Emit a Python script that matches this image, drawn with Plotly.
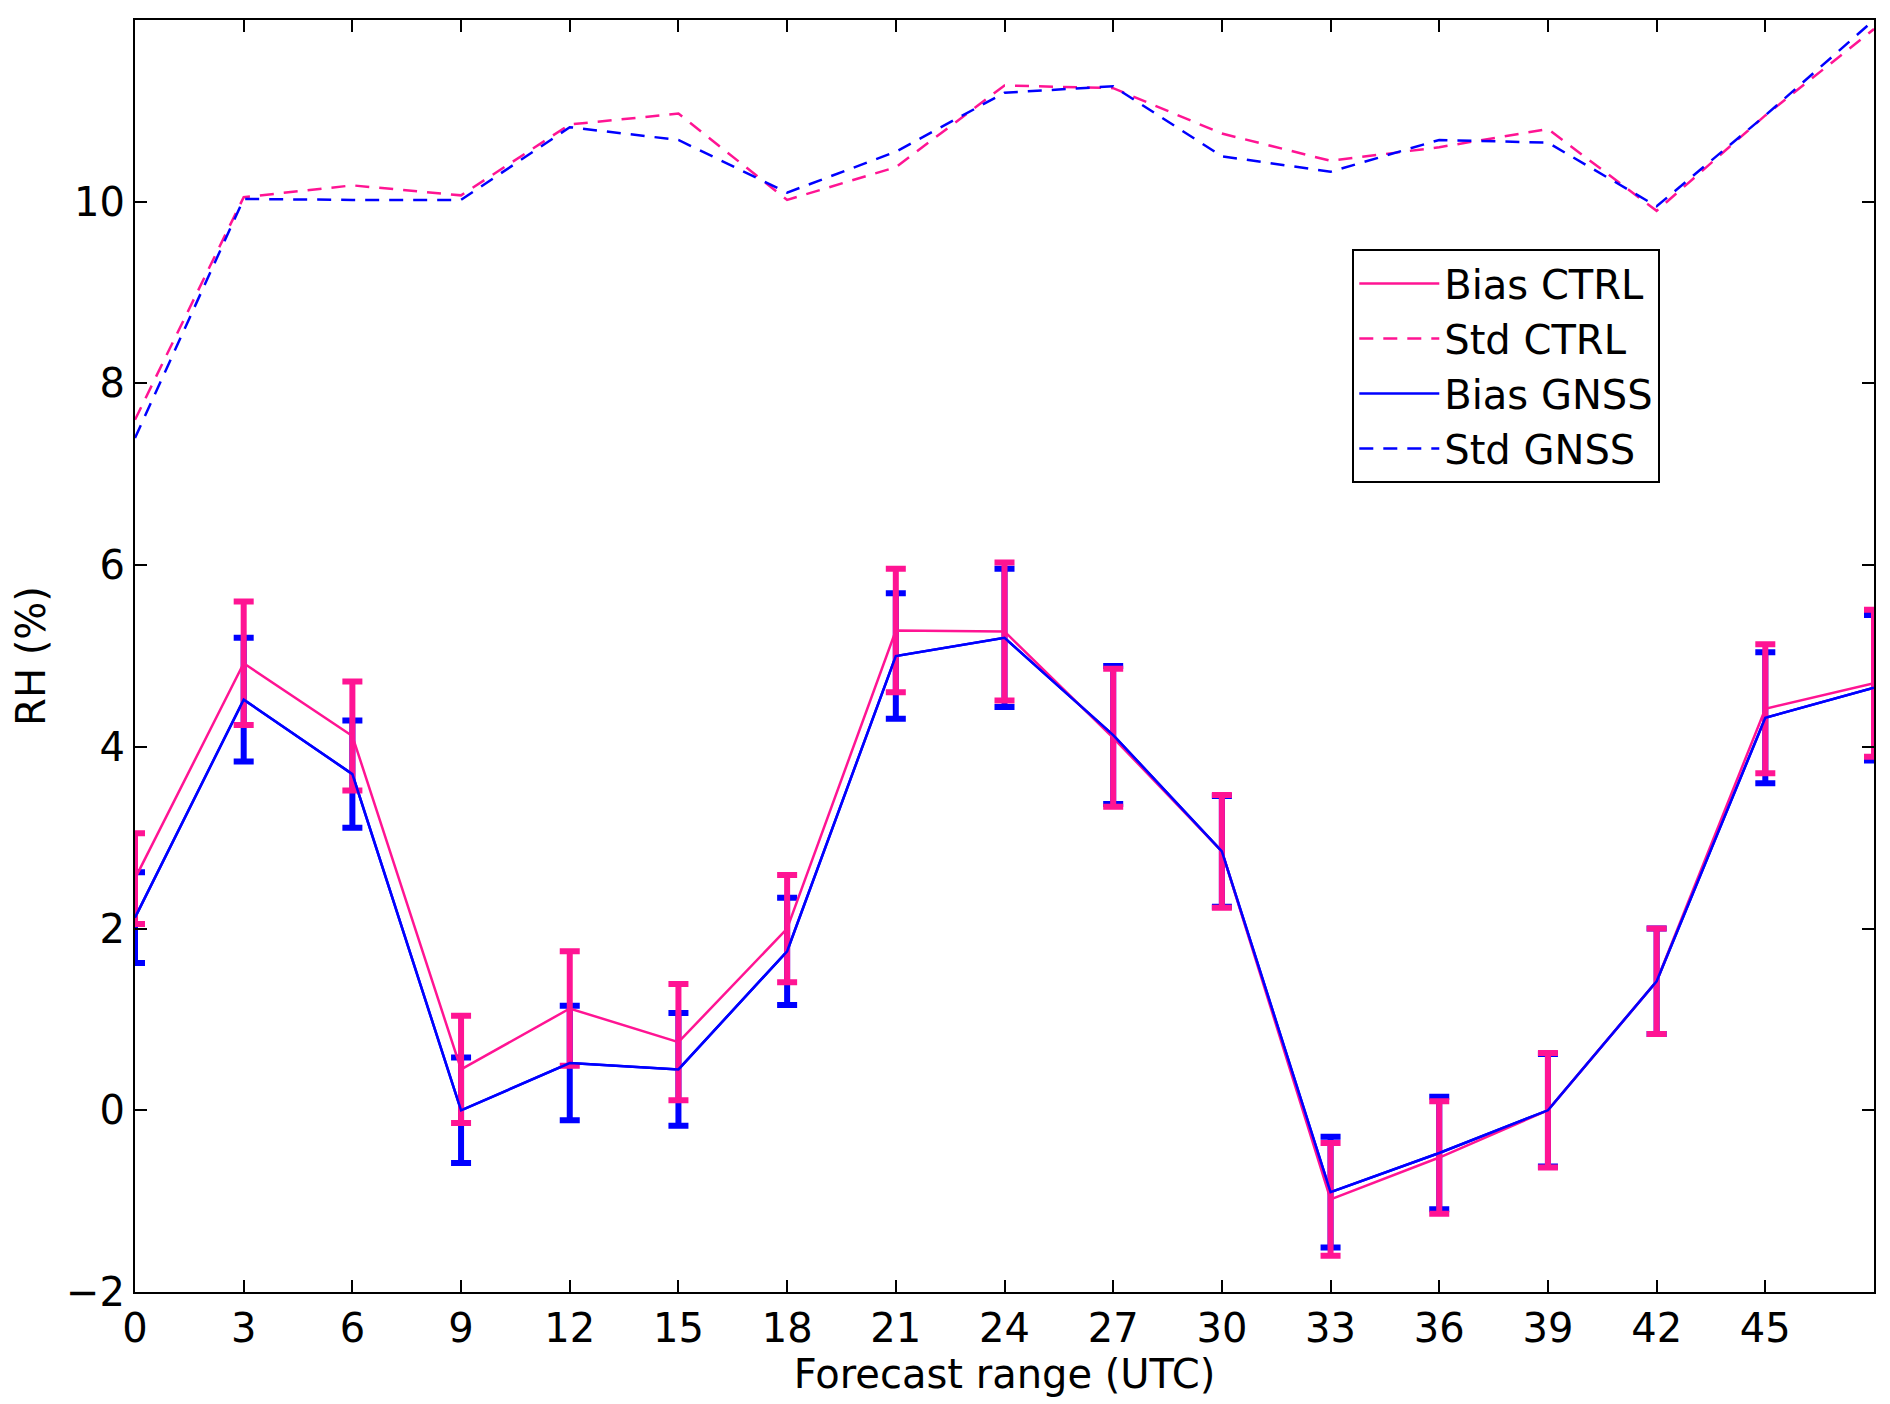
import plotly.graph_objects as go

hours = [0, 3, 6, 9, 12, 15, 18, 21, 24, 27, 30, 33, 36, 39, 42, 45, 48]

bias_ctrl = [2.55, 4.92, 4.12, 0.45, 1.12, 0.75, 2.0, 5.28, 5.27, 4.1, 2.85, -0.98, -0.52, 0.0, 1.42, 4.42, 4.7]
err_ctrl = [0.5, 0.68, 0.6, 0.59, 0.63, 0.64, 0.59, 0.68, 0.76, 0.76, 0.62, 0.62, 0.62, 0.63, 0.58, 0.71, 0.81]
bias_gnss = [2.12, 4.52, 3.7, 0.0, 0.52, 0.45, 1.75, 5.0, 5.2, 4.13, 2.85, -0.9, -0.47, 0.0, 1.42, 4.32, 4.65]
err_gnss = [0.5, 0.68, 0.59, 0.58, 0.63, 0.62, 0.59, 0.69, 0.76, 0.76, 0.61, 0.61, 0.62, 0.62, 0.58, 0.72, 0.8]
std_ctrl = [7.6, 10.05, 10.18, 10.07, 10.85, 10.97, 10.02, 10.38, 11.28, 11.25, 10.75, 10.45, 10.6, 10.8, 9.9, 10.95, 11.9]
std_gnss = [7.4, 10.03, 10.02, 10.02, 10.82, 10.68, 10.1, 10.55, 11.2, 11.27, 10.5, 10.33, 10.68, 10.65, 9.95, 10.95, 12.0]

PINK = "#ff1493"
BLUE = "#0000ff"
DASH = "14px,10px"

fig = go.Figure()

# error bars drawn first (GNSS under CTRL), lines on top
fig.add_trace(go.Scatter(
    x=hours, y=bias_gnss, mode="lines", line=dict(color=BLUE, width=2.5),
    error_y=dict(type="data", array=err_gnss, color=BLUE, thickness=6, width=10),
    name="Bias GNSS", showlegend=False,
))
fig.add_trace(go.Scatter(
    x=hours, y=bias_ctrl, mode="lines", line=dict(color=PINK, width=2.5),
    error_y=dict(type="data", array=err_ctrl, color=PINK, thickness=6, width=10),
    name="Bias CTRL", showlegend=False,
))
fig.add_trace(go.Scatter(x=hours, y=bias_gnss, mode="lines", line=dict(color=BLUE, width=2.5),
                         showlegend=False, hoverinfo="skip"))

# legend entries in reference order
fig.add_trace(go.Scatter(x=[None], y=[None], mode="lines", line=dict(color=PINK, width=2.5), name="Bias CTRL"))
fig.add_trace(go.Scatter(x=hours, y=std_ctrl, mode="lines",
                         line=dict(color=PINK, width=2.5, dash=DASH), name="Std CTRL"))
fig.add_trace(go.Scatter(x=[None], y=[None], mode="lines", line=dict(color=BLUE, width=2.5), name="Bias GNSS"))
fig.add_trace(go.Scatter(x=hours, y=std_gnss, mode="lines",
                         line=dict(color=BLUE, width=2.5, dash=DASH), name="Std GNSS"))

axis_common = dict(
    showgrid=False, zeroline=False, showline=True, linecolor="black", linewidth=2,
    mirror="ticks", ticks="inside", ticklen=12, tickwidth=1.5, tickcolor="black",
    tickfont=dict(size=40, color="black"),
)

fig.update_layout(
    width=1890, height=1404,
    plot_bgcolor="white", paper_bgcolor="white",
    font=dict(family="DejaVu Sans", color="black"),
    margin=dict(l=125, r=24, t=10, b=120),
    xaxis=dict(range=[0, 48], tickvals=hours,
               title=dict(text="Forecast range (UTC)", font=dict(size=40), standoff=8),
               **axis_common),
    yaxis=dict(range=[-2, 12], tickvals=[-2, 0, 2, 4, 6, 8, 10, 12],
               ticktext=["\u22122", "0", "2", "4", "6", "8", "10", "12"],
               title=dict(text="RH (%)", font=dict(size=40), standoff=20),
               **axis_common),
    legend=dict(x=0.70, y=0.82, xanchor="left", yanchor="top",
                bordercolor="black", borderwidth=2, bgcolor="white",
                font=dict(size=40), itemwidth=80, tracegroupgap=0),
)

fig.write_html("out.html")
